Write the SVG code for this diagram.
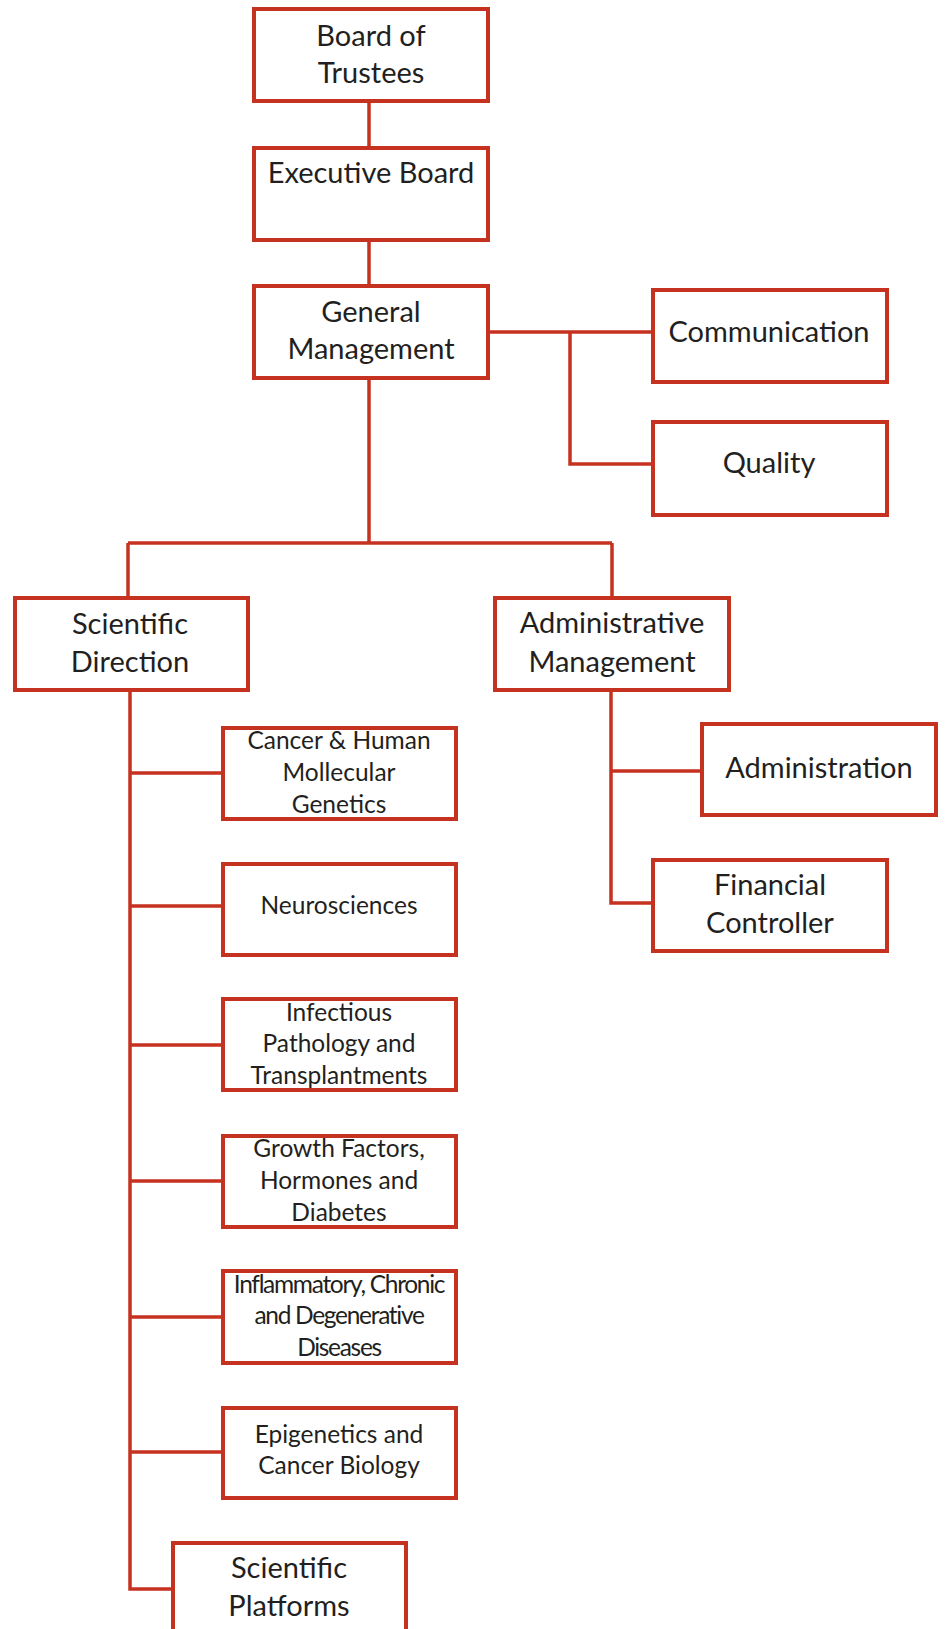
<svg xmlns="http://www.w3.org/2000/svg" width="947" height="1629" viewBox="0 0 947 1629">
<style>
.box{fill:#fff;stroke:#C5321F;stroke-width:4}
.ln{fill:none;stroke:#C5321F;stroke-width:3.5}
text{font-family:Lato,"Open Sans",sans-serif;fill:#231F20;text-anchor:middle}
.b{font-size:29px}
.s{font-size:24.5px}
.c{font-size:24.5px;letter-spacing:-1.3px}
</style>
<rect width="947" height="1629" fill="#fff"/>
<g id="connectors">
<path class="ln" d="M369,103V146M369,242V284M369,380V543M128,543H612M128,543V596M612,543V596"/>
<path class="ln" d="M490,332H651M570,332V464H651"/>
<path class="ln" d="M130,692V1589H171M130,773H221M130,906H221M130,1045H221M130,1181H221M130,1317H221M130,1452H221"/>
<path class="ln" d="M611,692V903H651M611,771H700"/>
</g>
<g id="board"><rect class="box" x="254" y="9" width="234" height="92"/><text class="b" x="371" y="46">Board of</text><text class="b" x="371" y="83">Trustees</text></g>
<g id="exec"><rect class="box" x="254" y="148" width="234" height="92"/><text class="b" x="371" y="183">Executive Board</text></g>
<g id="gm"><rect class="box" x="254" y="286" width="234" height="92"/><text class="b" x="371" y="322">General</text><text class="b" x="371" y="359">Management</text></g>
<g id="comm"><rect class="box" x="653" y="290" width="234" height="92"/><text class="b" x="769" y="342">Communication</text></g>
<g id="quality"><rect class="box" x="653" y="422" width="234" height="93"/><text class="b" x="769" y="473">Quality</text></g>
<g id="sd"><rect class="box" x="15" y="598" width="233" height="92"/><text class="b" x="130" y="634">Scientific</text><text class="b" x="130" y="672">Direction</text></g>
<g id="am"><rect class="box" x="495" y="598" width="234" height="92"/><text class="b" x="612" y="633">Administrative</text><text class="b" x="612" y="672">Management</text></g>
<g id="admin"><rect class="box" x="702" y="724" width="234" height="91"/><text class="b" x="819" y="778">Administration</text></g>
<g id="fin"><rect class="box" x="653" y="860" width="234" height="91"/><text class="b" x="770" y="895">Financial</text><text class="b" x="770" y="933">Controller</text></g>
<g id="cancer"><rect class="box" x="223" y="728" width="233" height="91"/><text class="s" x="339" y="749">Cancer &amp; Human</text><text class="s" x="339" y="781">Mollecular</text><text class="s" x="339" y="813">Genetics</text></g>
<g id="neuro"><rect class="box" x="223" y="864" width="233" height="91"/><text class="s" x="339" y="914">Neurosciences</text></g>
<g id="infect"><rect class="box" x="223" y="999" width="233" height="91"/><text class="s" x="339" y="1021">Infectious</text><text class="s" x="339" y="1052">Pathology and</text><text class="s" x="339" y="1084">Transplantments</text></g>
<g id="growth"><rect class="box" x="223" y="1136" width="233" height="91"/><text class="s" x="339" y="1157">Growth Factors,</text><text class="s" x="339" y="1189">Hormones and</text><text class="s" x="339" y="1221">Diabetes</text></g>
<g id="inflam"><rect class="box" x="223" y="1271" width="233" height="92"/><text class="c" x="339" y="1293">Inflammatory, Chronic</text><text class="c" x="339" y="1324">and Degenerative</text><text class="c" x="339" y="1356">Diseases</text></g>
<g id="epi"><rect class="box" x="223" y="1408" width="233" height="90"/><text class="s" x="339" y="1443">Epigenetics and</text><text class="s" x="339" y="1474">Cancer Biology</text></g>
<g id="platforms"><rect class="box" x="173" y="1543" width="233" height="100"/><text class="b" x="289" y="1578">Scientific</text><text class="b" x="289" y="1616">Platforms</text></g>
</svg>
